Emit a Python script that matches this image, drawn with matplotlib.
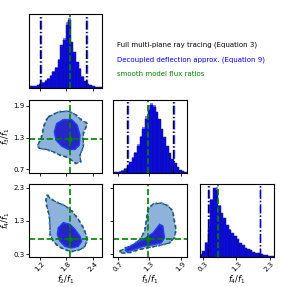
#!/usr/bin/env python3

import numpy as np
from matplotlib import pyplot as plt

# parameter ranges and ticks
names = [r"$f_2/f_1$", r"$f_3/f_1$", r"$f_4/f_1$"]
ranges = [(0.95, 2.62), (0.62, 2.02), (0.20, 2.42)]
ticks = [[1.2, 1.8, 2.4], [0.7, 1.3, 1.9], [0.3, 1.3, 2.3]]
truth = [1.88, 1.28, 0.74]

# histogram heights (28 bins over each range)
hist_full = [
    [5, 5, 6, 8, 12, 16, 22, 28, 38, 50, 62, 85, 130, 145, 190, 205, 140, 110, 80, 58, 33, 21, 13, 8, 6, 4, 3, 2],
    [3, 4, 5, 8, 14, 22, 32, 45, 58, 80, 105, 130, 160, 185, 200, 195, 180, 160, 130, 105, 80, 60, 42, 30, 18, 10, 6, 3],
    [10, 20, 45, 90, 175, 213, 205, 157, 135, 120, 100, 85, 75, 65, 55, 45, 38, 30, 25, 22, 18, 15, 13, 10, 8, 6, 5, 3],
]
hist_decoupled = [
    [4, 5, 7, 9, 13, 17, 24, 30, 40, 52, 65, 88, 125, 150, 200, 212, 135, 105, 78, 60, 36, 20, 13, 8, 5, 4, 3, 2],
    [3, 4, 6, 9, 15, 24, 34, 47, 62, 85, 110, 135, 168, 200, 205, 200, 178, 155, 125, 100, 76, 56, 40, 28, 17, 10, 5, 3],
    [8, 18, 48, 95, 180, 205, 215, 160, 130, 118, 98, 88, 72, 66, 52, 44, 36, 30, 24, 20, 17, 14, 12, 10, 7, 6, 4, 3],
]
quant_full = [(1.215, 2.255), (0.88, 1.745), (0.455, 2.0)]
quant_decoupled = [(1.23, 2.27), (0.905, 1.765), (0.475, 2.02)]

# 2D contour outlines (x, y) for panels (row, col)
outer_10_x = [1.394, 1.621, 1.847, 1.998, 2.15, 2.28, 2.186, 2.186, 2.111, 2.126, 2.02, 1.90, 1.795, 1.658, 1.507, 1.357, 1.19, 1.153, 1.22, 1.266, 1.28, 1.34]
outer_10_y = [1.691, 1.786, 1.80, 1.74, 1.63, 1.565, 1.376, 1.123, 0.966, 0.839, 0.808, 0.88, 0.934, 0.966, 1.029, 1.073, 1.092, 1.155, 1.26, 1.376, 1.49, 1.616]
inner_10_x = [1.583, 1.734, 1.922, 2.05, 2.111, 2.096, 1.998, 1.847, 1.696, 1.568, 1.53]
inner_10_y = [1.565, 1.641, 1.641, 1.533, 1.344, 1.155, 1.073, 1.073, 1.136, 1.25, 1.407]

outer_20_x = [1.372, 1.432, 1.583, 1.771, 1.922, 2.073, 2.186, 2.247, 2.277, 2.224, 2.111, 1.922, 1.771, 1.621, 1.507, 1.432, 1.432, 1.417, 1.357, 1.341]
outer_20_y = [2.084, 1.98, 1.86, 1.757, 1.604, 1.35, 1.095, 0.891, 0.738, 0.533, 0.432, 0.38, 0.432, 0.533, 0.686, 0.891, 1.145, 1.451, 1.757, 1.962]
inner_20_x = [1.621, 1.734, 1.885, 1.998, 2.111, 2.149, 2.073, 1.922, 1.771, 1.658, 1.598]
inner_20_y = [1.095, 1.248, 1.197, 1.044, 0.84, 0.686, 0.533, 0.483, 0.533, 0.686, 0.891]

outer_21_x = [0.738, 0.844, 1.0, 1.124, 1.217, 1.249, 1.28, 1.373, 1.529, 1.653, 1.746, 1.777, 1.809, 1.777, 1.684, 1.56, 1.404, 1.249, 1.093, 0.937, 0.782]
outer_21_y = [0.38, 0.483, 0.585, 0.738, 0.993, 1.35, 1.656, 1.809, 1.839, 1.757, 1.604, 1.298, 1.044, 0.789, 0.637, 0.585, 0.533, 0.483, 0.432, 0.35, 0.33]
inner_21_x = [0.844, 1.0, 1.186, 1.373, 1.497, 1.56, 1.591, 1.529, 1.373, 1.186, 1.0, 0.875]
inner_21_y = [0.432, 0.585, 0.738, 0.942, 1.197, 1.145, 0.789, 0.637, 0.585, 0.533, 0.432, 0.38]

contours = {
    (1, 0): (outer_10_x, outer_10_y, inner_10_x, inner_10_y),
    (2, 0): (outer_20_x, outer_20_y, inner_20_x, inner_20_y),
    (2, 1): (outer_21_x, outer_21_y, inner_21_x, inner_21_y),
}

lefts = [0.100, 0.395, 0.696]
bottoms = [0.693, 0.396, 0.103]
size = 0.257

fig = plt.figure(figsize=(2.87, 2.87), dpi=100)

for row in range(3):
    for col in range(row + 1):
        ax = fig.add_axes([lefts[col], bottoms[row], size, size])
        for s in ax.spines.values():
            s.set_linewidth(0.8)
        ax.tick_params(length=2, width=0.6, labelsize=5, pad=1)
        ax.tick_params(axis='x', pad=0.5)

        if row == col:
            lo, hi = ranges[col]
            edges = np.linspace(lo, hi, len(hist_full[col]) + 1)
            ax.stairs(hist_full[col], edges, fill=True, facecolor='#1515e0', edgecolor='none')
            ax.bar(edges[:-1], hist_full[col], width=np.diff(edges), align='edge',
                   facecolor='none', edgecolor='#222222', linewidth=0.35)
            ax.stairs(hist_decoupled[col], edges, fill=True, color='blue', alpha=0.5)
            for q in quant_full[col]:
                ax.axvline(q, color='k', ls='-.', lw=1.0)
            for q in quant_decoupled[col]:
                ax.axvline(q, color='blue', ls='-.', lw=1.0, alpha=0.8)
            ax.axvline(truth[col], color='green', ls='--', lw=1.2)
            top = max(max(hist_full[col]), max(hist_decoupled[col]))
            ax.set_ylim(0, top * 1.05)
            ax.set_xlim(lo, hi)
            ax.set_yticks([])
        else:
            ox, oy, ix, iy = contours[(row, col)]
            ax.fill(ox, oy, facecolor='#8fb2da', edgecolor='#2e8fff', linewidth=1.6, ls=':')
            ax.fill(ox, oy, facecolor='none', edgecolor='#2f4f4f', linewidth=0.9, ls='--')
            ax.fill(ix, iy, facecolor='#2525c8', edgecolor='#1f3fff', linewidth=1.0)
            ax.axvline(truth[col], color='green', ls='--', lw=1.2)
            ax.axhline(truth[row], color='green', ls='--', lw=1.2)
            ax.plot(truth[col], truth[row], 'o', color='green', ms=2.5)
            ax.set_xlim(ranges[col])
            ax.set_ylim(ranges[row])
            ax.set_yticks(ticks[row])
            if col == 0:
                ax.set_ylabel(names[row], fontsize=6, labelpad=1)
            else:
                ax.set_yticklabels([])

        ax.set_xticks(ticks[col])
        if row == 2:
            ax.set_xlabel(names[col], fontsize=6, labelpad=0)
            for lab in ax.get_xticklabels():
                lab.set_rotation(45)
        else:
            ax.set_xticklabels([])

fig.text(0.408, 0.843, "Full multi-plane ray tracing (Equation 3)", fontsize=5, color='k', va='center')
fig.text(0.408, 0.793, "Decoupled deflection approx. (Equation 9)", fontsize=5, color='blue', va='center')
fig.text(0.408, 0.742, "smooth model flux ratios", fontsize=5, color='green', va='center')

fig.savefig("out.png", dpi=100)
